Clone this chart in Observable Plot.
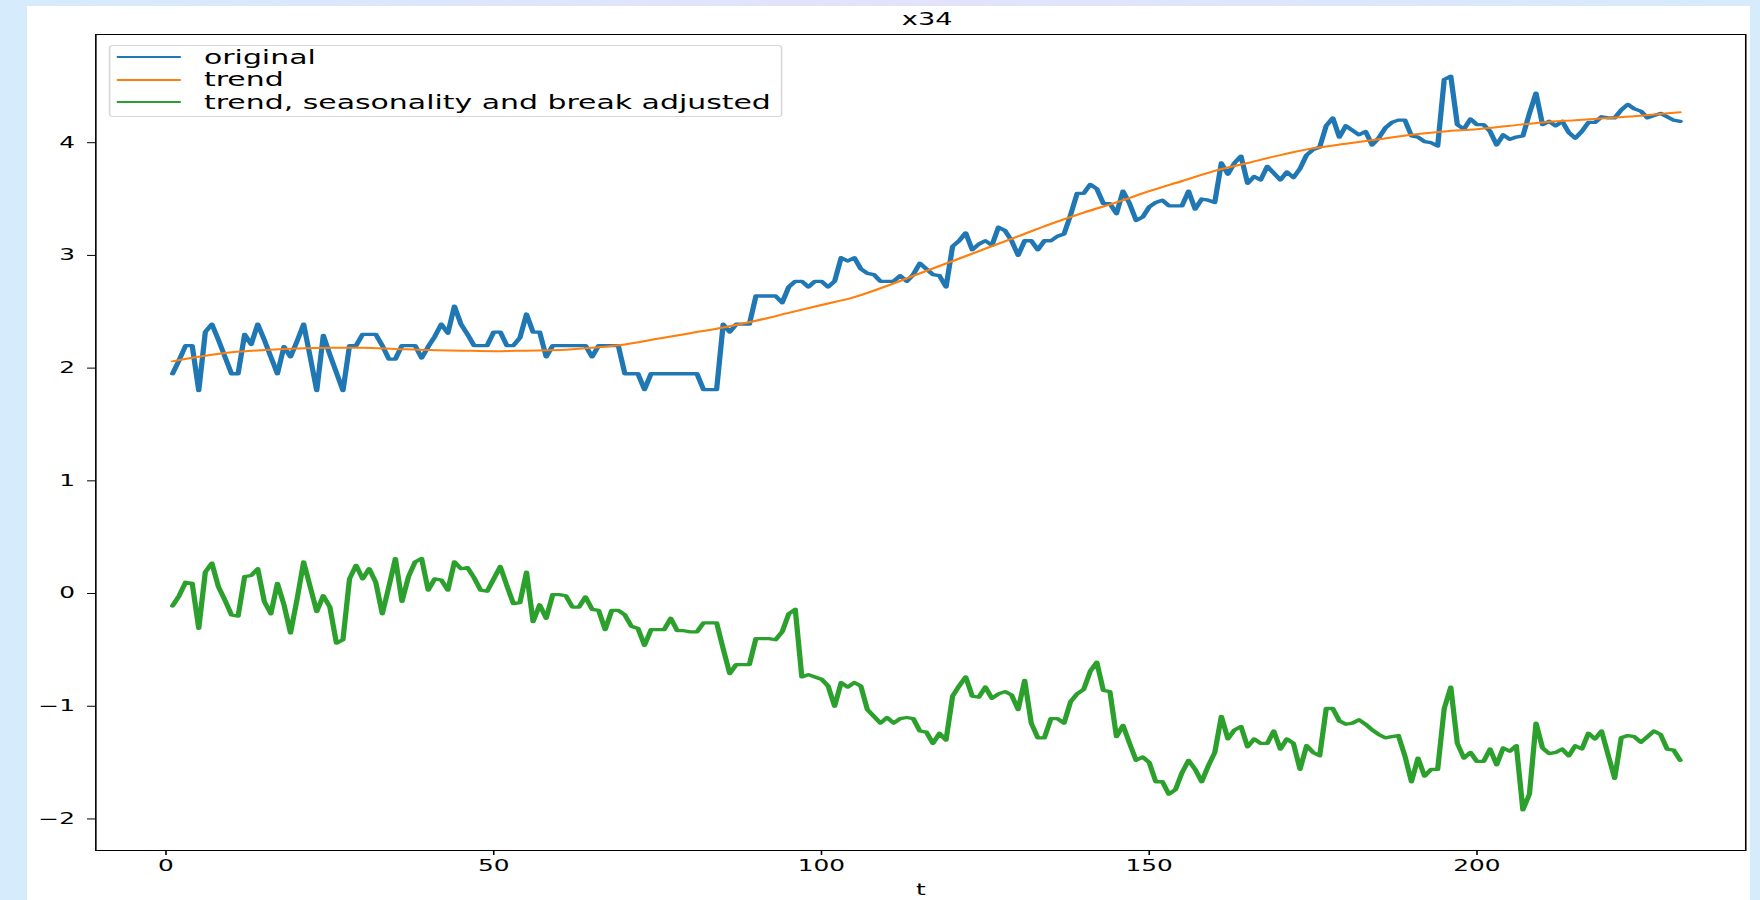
<!DOCTYPE html>
<html>
<head>
<meta charset="utf-8">
<script src="https://cdn.jsdelivr.net/npm/d3@7"></script>
<script src="https://cdn.jsdelivr.net/npm/@observablehq/plot@0.6"></script>
<style>
  html, body { margin: 0; padding: 0; }
  body {
    width: 1760px; height: 900px; overflow: hidden; position: relative;
    background: linear-gradient(to right, #d6ebfb 0%, #e3e2fb 50%, #d6ebfb 100%);
    font-family: "DejaVu Sans", sans-serif; color: #000;
  }
  #sheet { position: absolute; left: 27px; top: 6px; width: 1723px; height: 894px; background: #fff; }
  /* the figure is laid out at 1100px and stretched horizontally to 1760px */
  #fig { position: absolute; left: 0; top: 0; width: 1100px; height: 900px; transform: scaleX(1.6); transform-origin: 0 0; }
  #fig svg { position: absolute; left: 0; top: 0; }
  #title { position: absolute; left: 64.5px; width: 1030px; top: 9px; text-align: center; font-size: 17px; line-height: 20px; }
  #legend {
    position: absolute; left: 68px; top: 45px; width: 421px; height: 72px; box-sizing: border-box;
    border: 1px solid rgba(204,204,204,0.8); border-radius: 3px; background: rgba(255,255,255,0.8);
    font-size: 18.7px;
  }
  .row { position: absolute; left: 0; height: 22px; line-height: 22px; white-space: nowrap; }
  .swatch { position: absolute; left: 4px; top: 10px; width: 40px; height: 2px; }
  .lab { position: absolute; left: 58.5px; top: 0.5px; }
</style>
</head>
<body>
<div id="sheet"></div>
<div id="fig">
  <div id="title"></div>
  <div id="chart"></div>
  <div id="legend"></div>
</div>
<script>
// Series x34: original values, t = 1 .. 231
const original = [
  1.95,2.07,2.20,2.20,1.80,2.32,2.39,2.25,2.10,1.95,
  1.95,2.30,2.21,2.39,2.25,2.10,1.95,2.19,2.10,2.24,
  2.39,2.10,1.80,2.29,2.12,1.96,1.80,2.20,2.20,2.30,
  2.30,2.30,2.20,2.08,2.08,2.20,2.20,2.20,2.09,2.19,
  2.28,2.39,2.31,2.55,2.39,2.30,2.20,2.20,2.20,2.32,
  2.32,2.20,2.20,2.27,2.48,2.32,2.32,2.10,2.20,2.20,
  2.20,2.20,2.20,2.20,2.10,2.20,2.20,2.20,2.20,1.95,
  1.95,1.95,1.81,1.95,1.95,1.95,1.95,1.95,1.95,1.95,
  1.95,1.81,1.81,1.81,2.39,2.32,2.39,2.39,2.39,2.64,
  2.64,2.64,2.64,2.58,2.72,2.77,2.77,2.72,2.77,2.77,
  2.72,2.77,2.98,2.95,2.98,2.88,2.84,2.83,2.77,2.77,
  2.77,2.82,2.77,2.83,2.93,2.88,2.83,2.82,2.72,3.08,
  3.13,3.20,3.05,3.10,3.13,3.09,3.25,3.22,3.13,3.00,
  3.13,3.13,3.05,3.13,3.13,3.17,3.19,3.36,3.55,3.55,
  3.63,3.59,3.46,3.46,3.37,3.57,3.46,3.31,3.34,3.43,
  3.47,3.49,3.44,3.44,3.44,3.57,3.41,3.50,3.49,3.47,
  3.82,3.72,3.82,3.88,3.64,3.70,3.67,3.79,3.73,3.67,
  3.74,3.69,3.77,3.89,3.94,3.96,4.15,4.22,4.05,4.15,
  4.11,4.07,4.10,3.98,4.04,4.13,4.18,4.20,4.20,4.06,
  4.05,4.01,4.00,3.97,4.56,4.59,4.16,4.12,4.21,4.16,
  4.16,4.10,3.98,4.07,4.03,4.05,4.06,4.26,4.44,4.16,
  4.19,4.15,4.19,4.09,4.04,4.10,4.18,4.18,4.23,4.22,
  4.22,4.29,4.34,4.30,4.28,4.22,4.24,4.26,4.23,4.20,
  4.19
];

// Adjusted series, t = 1 .. 231
const adjusted = [
  -0.11,-0.02,0.10,0.09,-0.31,0.19,0.27,0.06,-0.06,-0.19,
  -0.20,0.15,0.16,0.22,-0.07,-0.18,0.09,-0.10,-0.35,-0.05,
  0.28,0.06,-0.16,-0.02,-0.12,-0.44,-0.41,0.13,0.25,0.13,
  0.22,0.10,-0.18,0.06,0.31,-0.07,0.15,0.28,0.31,0.03,
  0.13,0.12,0.03,0.28,0.22,0.23,0.14,0.03,0.02,0.13,
  0.24,0.07,-0.09,-0.08,0.19,-0.25,-0.10,-0.22,-0.01,-0.01,
  -0.02,-0.12,-0.12,-0.03,-0.14,-0.15,-0.32,-0.15,-0.15,-0.19,
  -0.29,-0.31,-0.46,-0.32,-0.32,-0.32,-0.22,-0.33,-0.33,-0.34,
  -0.34,-0.26,-0.26,-0.26,-0.49,-0.71,-0.63,-0.63,-0.63,-0.40,
  -0.40,-0.40,-0.41,-0.34,-0.18,-0.14,-0.74,-0.72,-0.74,-0.76,
  -0.82,-1.00,-0.79,-0.83,-0.79,-0.82,-1.03,-1.09,-1.15,-1.10,
  -1.15,-1.11,-1.10,-1.11,-1.22,-1.23,-1.33,-1.24,-1.30,-0.91,
  -0.82,-0.74,-0.91,-0.92,-0.83,-0.93,-0.89,-0.87,-0.90,-1.03,
  -0.77,-1.15,-1.28,-1.28,-1.11,-1.11,-1.15,-0.96,-0.89,-0.85,
  -0.69,-0.61,-0.86,-0.87,-1.27,-1.17,-1.33,-1.48,-1.45,-1.50,
  -1.67,-1.67,-1.78,-1.74,-1.59,-1.48,-1.56,-1.67,-1.53,-1.41,
  -1.09,-1.29,-1.21,-1.18,-1.36,-1.29,-1.33,-1.33,-1.22,-1.38,
  -1.29,-1.33,-1.56,-1.35,-1.41,-1.44,-1.02,-1.02,-1.13,-1.16,
  -1.15,-1.12,-1.16,-1.21,-1.25,-1.28,-1.27,-1.26,-1.44,-1.67,
  -1.46,-1.62,-1.56,-1.56,-1.02,-0.83,-1.33,-1.46,-1.41,-1.49,
  -1.49,-1.38,-1.52,-1.37,-1.40,-1.35,-1.92,-1.78,-1.15,-1.37,
  -1.42,-1.41,-1.38,-1.44,-1.35,-1.38,-1.24,-1.29,-1.22,-1.43,
  -1.64,-1.28,-1.26,-1.27,-1.32,-1.27,-1.22,-1.25,-1.38,-1.39,
  -1.48
];

// Smooth trend, sampled along t
const trendT = [1,5,10,15,20,25,30,35,40,45,50,55,60,65,70,75,80,85,90,95,100,105,110,115,120,125,130,135,140,145,150,155,160,165,170,175,180,185,190,195,200,205,210,215,220,225,231];
const trendV = [2.06,2.10,2.14,2.16,2.175,2.18,2.18,2.17,2.16,2.155,2.15,2.155,2.16,2.18,2.21,2.26,2.31,2.36,2.42,2.49,2.56,2.63,2.73,2.84,2.95,3.06,3.17,3.28,3.38,3.47,3.57,3.66,3.75,3.82,3.89,3.95,3.99,4.03,4.07,4.10,4.12,4.15,4.18,4.20,4.22,4.24,4.27];

const seriesNames = ["original", "trend", "trend, seasonality and break adjusted"];
const seriesColors = ["#1f77b4", "#ff7f0e", "#2ca02c"];
const xTicks = [0, 50, 100, 150, 200];
const yTicks = [-2, -1, 0, 1, 2, 3, 4];
const titleText = "x34";
const xLabel = "t";

const originalRows = original.map((v, i) => ({t: i + 1, v}));
const adjustedRows = adjusted.map((v, i) => ({t: i + 1, v}));
const trendRows = trendT.map((t, i) => ({t, v: trendV[i]}));

const chart = Plot.plot({
  width: 1100,
  height: 900,
  marginLeft: 59.4,
  marginRight: 9.4,
  marginTop: 34,
  marginBottom: 50,
  style: {fontFamily: "DejaVu Sans", fontSize: "15.5px", color: "#000", background: "transparent", overflow: "visible"},
  x: {domain: [-10.7, 241]},
  y: {domain: [-2.28, 4.96]},
  marks: [
    Plot.lineY(originalRows, {x: "t", y: "v", stroke: seriesColors[0], strokeWidth: 3.3}),
    Plot.lineY(trendRows, {x: "t", y: "v", stroke: seriesColors[1], strokeWidth: 2, curve: "monotone-x"}),
    Plot.lineY(adjustedRows, {x: "t", y: "v", stroke: seriesColors[2], strokeWidth: 3.3}),
    Plot.axisX({ticks: xTicks, tickSize: 5, tickPadding: 4, tickFormat: d3.format("d"), label: xLabel, labelAnchor: "center", labelArrow: "none", labelOffset: 44}),
    Plot.axisY({ticks: yTicks, tickSize: 5, tickPadding: 8, tickFormat: d3.format("d"), label: null}),
    Plot.frame({stroke: "#000", strokeWidth: 1})
  ]
});
document.getElementById("chart").appendChild(chart);
document.getElementById("title").textContent = titleText;

const legend = document.getElementById("legend");
seriesNames.forEach((name, i) => {
  const row = document.createElement("div");
  row.className = "row";
  row.style.top = (0 + i * 22.5) + "px";
  row.style.width = "100%";
  const sw = document.createElement("div");
  sw.className = "swatch";
  sw.style.background = seriesColors[i];
  const lab = document.createElement("div");
  lab.className = "lab";
  lab.textContent = name;
  row.appendChild(sw);
  row.appendChild(lab);
  legend.appendChild(row);
});
</script>
</body>
</html>
